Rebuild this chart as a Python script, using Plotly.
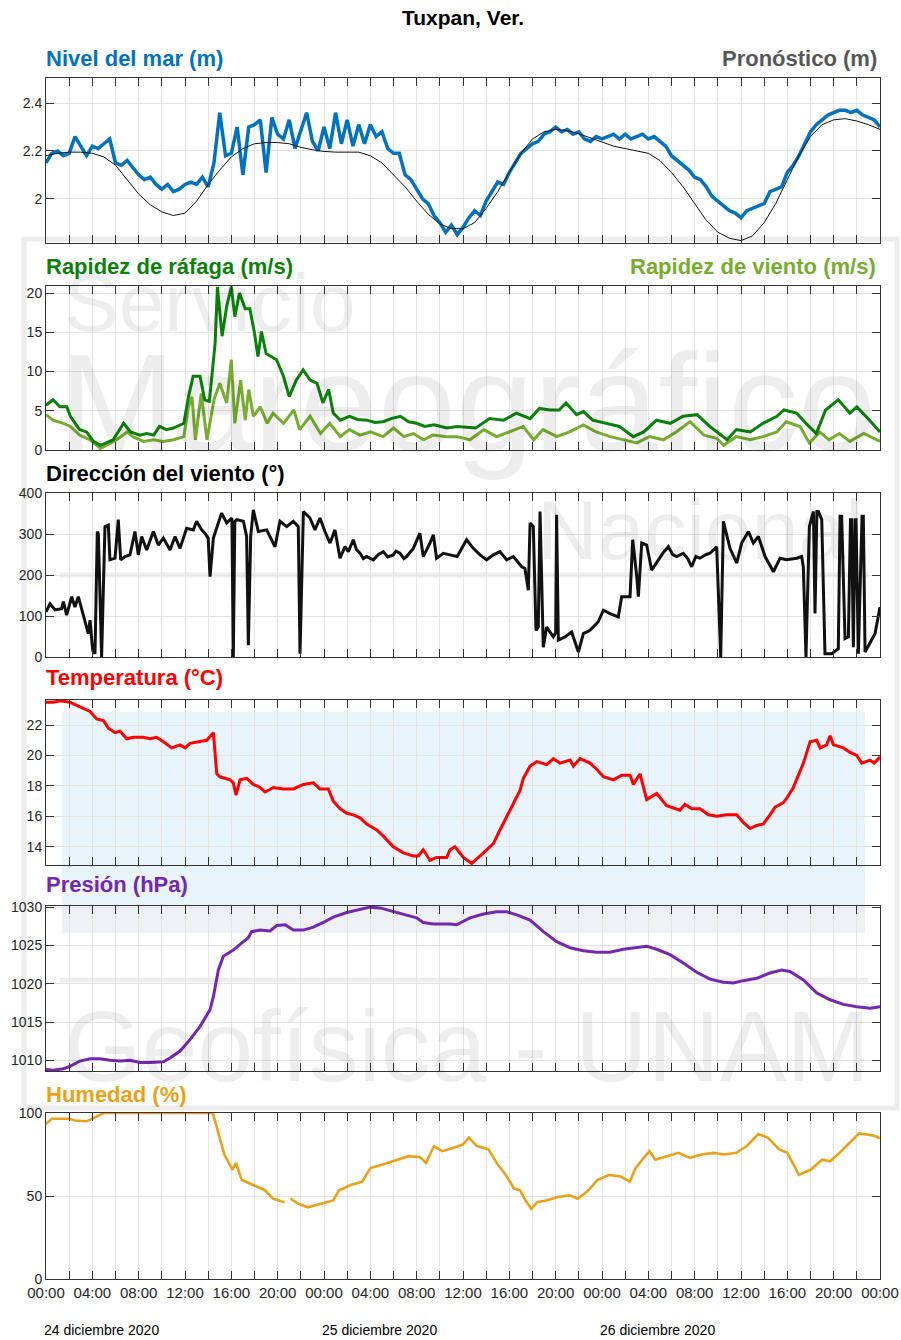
import pandas as pd
import plotly.graph_objects as go

# ---------------------------------------------------------------- data
START = pd.Timestamp("2020-12-24 00:00")
END = pd.Timestamp("2020-12-27 00:00")

# Sea level, observed every 30 min (m)
sea_hours = [i * 0.5 for i in range(145)]
sea_level = [
    2.15, 2.19, 2.20, 2.18, 2.19, 2.26, 2.22, 2.18, 2.22, 2.21,
    2.23, 2.25, 2.15, 2.14, 2.16, 2.13, 2.10, 2.08, 2.09, 2.06,
    2.04, 2.06, 2.03, 2.04, 2.06, 2.07, 2.06, 2.09, 2.05, 2.15,
    2.36, 2.18, 2.19, 2.30, 2.10, 2.30, 2.31, 2.33, 2.11, 2.34,
    2.27, 2.25, 2.33, 2.21, 2.29, 2.36, 2.24, 2.20, 2.30, 2.21,
    2.36, 2.23, 2.33, 2.22, 2.31, 2.23, 2.31, 2.26, 2.28, 2.21,
    2.19, 2.19, 2.10, 2.08, 2.04, 2.00, 1.98, 1.93, 1.90, 1.86,
    1.89, 1.85, 1.88, 1.92, 1.95, 1.93, 1.99, 2.03, 2.07, 2.06,
    2.11, 2.15, 2.19, 2.21, 2.23, 2.24, 2.27, 2.28, 2.30, 2.28,
    2.29, 2.27, 2.28, 2.25, 2.24, 2.26, 2.25, 2.26, 2.27, 2.25,
    2.27, 2.25, 2.26, 2.27, 2.25, 2.26, 2.24, 2.22, 2.18, 2.16,
    2.14, 2.12, 2.09, 2.08, 2.05, 2.01, 1.99, 1.97, 1.95, 1.94,
    1.92, 1.95, 1.96, 1.97, 1.98, 2.03, 2.04, 2.05, 2.11, 2.14,
    2.18, 2.23, 2.28, 2.31, 2.33, 2.35, 2.36, 2.37, 2.37, 2.36,
    2.37, 2.35, 2.34, 2.33, 2.30,
]

# Tide forecast, hourly (m)
fc_hours = list(range(73))
forecast = [
    2.18, 2.19, 2.195, 2.195, 2.19, 2.175, 2.14, 2.08, 2.02, 1.975,
    1.945, 1.93, 1.94, 1.99, 2.06, 2.12, 2.175, 2.21, 2.23, 2.235,
    2.235, 2.23, 2.215, 2.205, 2.198, 2.195, 2.195, 2.195, 2.18, 2.15,
    2.10, 2.05, 1.99, 1.935, 1.895, 1.875, 1.875, 1.90, 1.96, 2.03,
    2.11, 2.19, 2.25, 2.28, 2.29, 2.285, 2.272, 2.255, 2.235, 2.22,
    2.21, 2.20, 2.19, 2.16, 2.11, 2.05, 1.98, 1.91, 1.86, 1.835,
    1.825, 1.845, 1.90, 1.98, 2.08, 2.18, 2.26, 2.31, 2.33, 2.335,
    2.325, 2.31, 2.29,
]

# Wind gust (m/s)
gust_hours = [
    0, 0.6, 1.2, 1.8, 2.1, 2.9, 3.5, 4.1, 4.7, 5.2,
    5.8, 6.7, 7.3, 8.1, 8.7, 9.3, 9.8, 10.4, 11.0, 11.9,
    12.3, 12.7, 13.3, 13.7, 14.1, 14.6, 14.8, 15.2, 15.6, 16.0,
    16.3, 16.7, 17.2, 17.6, 18.0, 18.3, 18.6, 19.0, 19.9, 20.5,
    21.0, 21.6, 22.2, 22.8, 23.4, 23.9, 24.4, 24.8, 25.4, 26.2,
    26.9, 27.7, 28.4, 29.1, 29.8, 30.6, 31.3, 32.0, 32.7, 33.5,
    34.6, 35.5, 37.1, 38.3, 39.5, 40.6, 41.8, 42.6, 43.5, 44.3,
    44.9, 45.8, 46.4, 47.2, 48.4, 49.5, 50.7, 51.6, 52.7, 53.9,
    55.0, 56.2, 57.3, 58.8, 59.6, 60.8, 61.9, 63.1, 63.7, 64.8,
    65.6, 66.5, 67.3, 68.4, 69.4, 70.0, 71.1, 72.0,
]
gust = [
    5.7, 6.4, 5.5, 5.5, 4.3, 2.6, 2.3, 1.1, 0.6, 0.9,
    1.3, 3.4, 2.3, 1.9, 2.1, 1.9, 3.0, 2.6, 2.8, 3.4,
    6.8, 9.4, 9.4, 6.4, 6.2, 13.6, 20.8, 14.5, 18.3, 20.8,
    17.0, 20.0, 18.0, 18.0, 14.9, 11.9, 15.1, 12.3, 11.5, 9.4,
    6.8, 8.9, 10.2, 8.9, 8.5, 6.0, 7.7, 4.7, 3.8, 4.3,
    3.9, 3.8, 3.5, 3.6, 4.0, 4.3, 3.6, 3.4, 3.0, 3.2,
    2.8, 3.0, 2.8, 4.0, 3.8, 4.7, 4.0, 5.3, 5.1, 5.1,
    6.0, 4.5, 4.9, 3.8, 3.4, 3.0, 1.7, 2.3, 3.8, 3.4,
    4.3, 4.5, 3.0, 1.3, 2.6, 2.3, 3.4, 4.3, 5.1, 4.7,
    3.4, 2.1, 5.1, 6.4, 4.7, 5.5, 3.8, 2.3,
]

# Wind speed (m/s)
wind_hours = [
    0, 0.6, 1.5, 2.1, 2.9, 3.8, 4.7, 5.2, 6.1, 7.0,
    7.5, 8.4, 9.3, 10.1, 11.0, 11.9, 12.3, 12.6, 12.9, 13.4,
    13.9, 14.5, 15.0, 15.6, 16.0, 16.3, 16.8, 17.2, 17.5, 17.9,
    18.5, 19.1, 19.6, 20.5, 21.4, 21.9, 22.8, 23.7, 24.5, 25.4,
    26.2, 27.1, 28.0, 29.1, 30.0, 30.9, 31.7, 32.6, 33.4, 34.6,
    35.5, 36.6, 37.8, 38.9, 40.0, 41.2, 42.1, 42.9, 44.1, 45.2,
    46.4, 47.5, 48.7, 49.8, 51.0, 52.1, 53.3, 54.4, 55.6, 56.8,
    57.9, 58.5, 59.6, 60.8, 61.9, 63.1, 63.9, 65.1, 65.9, 66.8,
    67.6, 68.5, 69.4, 70.6, 71.4, 72.0,
]
wind = [
    4.5, 3.8, 3.4, 3.0, 1.9, 1.3, 0.2, 0.6, 1.3, 2.3,
    1.7, 1.1, 1.3, 1.1, 1.3, 1.7, 5.5, 6.8, 1.3, 7.2,
    1.3, 6.4, 8.5, 6.0, 11.5, 3.4, 8.9, 3.8, 7.7, 4.3,
    5.5, 3.4, 4.7, 3.4, 5.1, 2.6, 4.3, 2.1, 3.4, 1.7,
    2.6, 1.9, 2.3, 1.7, 2.8, 1.7, 2.1, 1.3, 1.9, 1.7,
    1.7, 1.3, 2.6, 1.7, 2.3, 3.0, 1.3, 2.6, 1.7, 2.3,
    3.2, 2.3, 1.7, 1.3, 0.9, 1.7, 1.3, 2.3, 3.6, 1.9,
    1.5, 0.6, 1.7, 1.3, 1.7, 2.3, 3.6, 3.0, 0.9, 2.3,
    1.3, 2.1, 1.1, 2.1, 1.5, 1.1,
]

# Wind direction (degrees)
dir_hours = [
    0.0, 0.35, 0.78, 1.35, 1.5, 1.78, 2.22, 2.5, 2.79, 3.08,
    3.37, 3.65, 3.8, 4.03, 4.23, 4.43, 4.52, 4.8, 5.09, 5.38,
    5.52, 5.96, 6.24, 6.45, 6.82, 7.25, 7.68, 7.97, 8.26, 8.69,
    9.27, 9.7, 10.13, 10.71, 11.14, 11.57, 12.14, 12.72, 13.0, 13.44,
    13.72, 14.0, 14.16, 14.45, 15.16, 15.6, 16.05, 16.17, 16.3, 16.46,
    17.04, 17.32, 17.47, 17.67, 17.9, 18.33, 19.05, 19.77, 20.2, 20.78,
    21.35, 21.78, 21.93, 22.22, 22.79, 23.22, 23.65, 24.08, 24.52, 24.95,
    25.38, 25.81, 26.1, 26.53, 26.8, 27.11, 27.4, 27.68, 28.26, 28.7,
    29.12, 29.5, 29.98, 30.2, 30.56, 30.9, 31.13, 31.71, 32.28, 32.57,
    33.15, 33.44, 33.72, 34.3, 34.88, 35.5, 36.31, 36.89, 37.47, 38.04,
    38.62, 39.19, 39.77, 40.35, 41.07, 41.35, 41.64, 41.79, 42.07, 42.3,
    42.5, 42.65, 42.93, 43.22, 43.8, 44.0, 44.08, 44.23, 44.8, 45.38,
    45.96, 46.39, 46.96, 47.68, 48.12, 48.69, 49.41, 49.7, 50.42, 50.65,
    51.0, 51.14, 51.43, 51.86, 52.29, 52.87, 53.3, 53.73, 54.1, 54.45,
    55.02, 55.4, 55.74, 56.1, 56.46, 57.0, 57.33, 57.9, 58.25, 58.48,
    59.05, 59.63, 60.06, 60.64, 61.07, 61.5, 62.08, 62.8, 63.37, 63.95,
    64.81, 65.24, 65.38, 65.61, 65.9, 66.25, 66.39, 66.55, 66.68, 66.97,
    67.25, 67.83, 68.4, 68.55, 68.69, 68.98, 69.27, 69.45, 69.55, 69.7,
    69.85, 69.93, 70.13, 70.45, 70.56, 70.71, 71.14, 71.57, 72.0,
]
direction = [
    110, 130, 115, 118, 135, 102, 147, 122, 147, 115,
    82, 57, 90, 16, 8, 306, 300, 0, 318, 322,
    237, 241, 335, 237, 245, 249, 306, 249, 294, 261,
    306, 273, 290, 261, 294, 265, 314, 310, 331, 310,
    302, 290, 196, 290, 351, 327, 339, 0, 330, 335,
    331, 294, 29, 294, 359, 306, 310, 269, 331, 318,
    331, 318, 8, 355, 339, 310, 339, 306, 278, 310,
    241, 269, 257, 286, 262, 253, 240, 245, 237, 250,
    257, 244, 249, 258, 253, 240, 245, 265, 302, 245,
    278, 298, 241, 253, 249, 245, 286, 265, 249, 237,
    249, 257, 237, 245, 220, 216, 163, 327, 318, 65,
    73, 355, 24, 73, 49, 60, 347, 41, 49, 61,
    12, 57, 65, 86, 114, 106, 98, 147, 147, 286,
    196, 147, 278, 273, 212, 237, 255, 269, 250, 245,
    253, 240, 220, 245, 241, 250, 253, 269, 0, 331,
    265, 229, 278, 306, 278, 294, 245, 208, 241, 237,
    241, 245, 220, 0, 318, 355, 106, 355, 355, 335,
    8, 8, 20, 343, 343, 45, 49, 335, 335, 24,
    335, 335, 8, 343, 343, 12, 33, 57, 122,
]

# Air temperature (deg C)
temp_hours = [
    0, 0.63, 1.21, 2.07, 2.93, 3.8, 4.37, 4.95, 5.38, 5.96,
    6.39, 6.97, 7.54, 8.4, 8.98, 9.55, 10.13, 10.85, 11.57, 12.0,
    12.43, 13.29, 13.87, 14.45, 14.74, 15.02, 15.89, 16.17, 16.4, 16.75,
    17.32, 17.9, 18.48, 18.91, 19.63, 20.49, 21.35, 22.22, 23.08, 23.65,
    24.37, 24.8, 25.38, 25.96, 26.53, 27.11, 27.68, 28.55, 29.12, 29.98,
    30.85, 31.71, 32.14, 32.57, 33.15, 33.72, 34.59, 34.88, 35.31, 36.03,
    36.75, 37.76, 38.62, 39.19, 39.77, 40.35, 40.92, 41.21, 41.79, 42.36,
    43.22, 43.8, 44.37, 45.24, 45.53, 46.1, 46.96, 47.54, 48.12, 48.98,
    49.7, 50.42, 50.71, 51.28, 51.57, 51.86, 52.72, 53.58, 54.73, 55.16,
    55.74, 56.46, 57.18, 57.9, 58.76, 59.63, 60.2, 60.78, 61.35, 61.93,
    62.5, 62.94, 63.66, 63.95, 64.52, 65.39, 65.96, 66.54, 66.83, 67.4,
    67.69, 67.98, 68.84, 69.42, 69.99, 70.42, 71.14, 71.49, 72.0,
]
temperature = [
    23.5, 23.5, 23.6, 23.5, 23.2, 22.9, 22.4, 22.3, 21.8, 21.5,
    21.6, 21.1, 21.2, 21.2, 21.1, 21.2, 20.9, 20.5, 20.7, 20.5,
    20.8, 20.9, 21.0, 21.5, 18.8, 18.6, 18.4, 18.2, 17.4, 18.4,
    18.5, 18.1, 17.9, 17.6, 17.9, 17.8, 17.8, 18.1, 18.2, 17.8,
    17.8, 17.0, 16.5, 16.2, 16.1, 15.9, 15.5, 15.1, 14.7, 14.0,
    13.6, 13.4, 13.4, 13.8, 13.1, 13.3, 13.3, 13.8, 14.0, 13.3,
    12.9, 13.6, 14.2, 15.1, 16.0, 16.8, 17.7, 18.5, 19.3, 19.6,
    19.4, 19.8, 19.5, 19.7, 19.3, 19.8, 19.5, 19.1, 18.6, 18.4,
    18.7, 18.7, 18.1, 18.8, 17.9, 17.1, 17.5, 16.7, 16.4, 16.8,
    16.5, 16.5, 16.1, 16.0, 16.1, 16.1, 15.6, 15.2, 15.4, 15.5,
    16.1, 16.6, 16.9, 17.2, 17.9, 19.5, 20.9, 21.0, 20.5, 20.7,
    21.3, 20.7, 20.5, 20.2, 20.0, 19.5, 19.7, 19.5, 19.9,
]

# Barometric pressure (hPa)
pres_hours = [
    0, 0.63, 1.5, 2.07, 2.93, 3.8, 4.66, 5.52, 6.39, 7.25,
    8.11, 8.98, 10.13, 10.71, 11.57, 12.43, 13.29, 14.16, 14.45, 14.88,
    15.31, 16.17, 17.04, 17.47, 17.75, 18.48, 19.34, 19.92, 20.64, 21.35,
    22.22, 23.08, 23.94, 24.8, 25.96, 27.11, 27.97, 28.83, 29.98, 31.13,
    31.99, 32.57, 33.44, 34.88, 35.45, 36.6, 37.76, 38.91, 39.77, 40.64,
    41.79, 42.94, 44.09, 45.24, 46.39, 47.54, 48.69, 49.84, 50.99, 51.86,
    52.72, 53.87, 55.02, 56.17, 57.33, 58.48, 59.34, 60.2, 61.35, 62.5,
    63.51, 64.23, 65.39, 66.54, 67.69, 68.84, 69.99, 71.14, 72.0,
]
pressure = [
    1008.8, 1008.7, 1008.9, 1009.2, 1009.9, 1010.2, 1010.2, 1010.0, 1009.9, 1010.0,
    1009.7, 1009.7, 1009.8, 1010.3, 1011.2, 1012.7, 1014.4, 1016.6, 1018.3, 1021.8,
    1023.6, 1024.4, 1025.5, 1026.0, 1026.8, 1027.0, 1026.9, 1027.6, 1027.7, 1027.0,
    1027.0, 1027.4, 1028.0, 1028.7, 1029.3, 1029.7, 1030.0, 1029.9, 1029.4, 1029.0,
    1028.6, 1028.0, 1027.8, 1027.8, 1027.7, 1028.6, 1029.1, 1029.4, 1029.4, 1029.0,
    1028.3, 1026.8, 1025.5, 1024.7, 1024.3, 1024.1, 1024.1, 1024.5, 1024.7, 1024.9,
    1024.5, 1023.8, 1022.7, 1021.5, 1020.6, 1020.2, 1020.1, 1020.4, 1020.7, 1021.4,
    1021.8, 1021.6, 1020.5, 1018.8, 1017.9, 1017.3, 1017.0, 1016.8, 1017.0,
]

# Relative humidity (%), None marks a missing record
hum_hours = [
    0, 0.5, 2.0, 2.5, 3.5, 4.2, 5.0, 14.4, 14.9, 15.4,
    16.1, 16.4, 16.9, 17.9, 18.9, 19.6, 20.6, 20.8, 21.1, 21.8,
    22.6, 23.8, 24.8, 25.3, 26.3, 27.3, 28.0, 29.0, 30.3, 31.3,
    32.3, 32.8, 33.5, 34.2, 35.2, 36.0, 36.5, 37.2, 38.2, 39.0,
    39.7, 40.4, 40.9, 41.4, 41.9, 42.4, 43.2, 44.2, 45.2, 45.9,
    46.7, 47.6, 48.6, 49.6, 50.4, 50.9, 51.6, 52.1, 52.6, 53.6,
    54.6, 55.6, 56.6, 57.6, 58.6, 59.6, 60.5, 61.5, 62.3, 63.3,
    64.0, 65.0, 66.0, 67.0, 67.7, 68.5, 69.5, 70.2, 71.0, 71.5,
    72.0,
]
humidity = [
    93.4, 96.5, 96.5, 95.5, 95.0, 97.5, 100, 100, 87.3, 75.0,
    65.8, 69.9, 59.6, 56.6, 53.5, 48.4, 46.3, None, 48.4, 45.3,
    43.2, 45.3, 47.3, 53.5, 56.6, 58.6, 66.8, 68.9, 71.9, 74.0,
    73.4, 69.9, 80.1, 77.0, 79.1, 81.1, 85.2, 80.1, 78.1, 68.9,
    62.7, 54.5, 53.5, 47.3, 42.2, 46.3, 47.3, 49.4, 50.4, 48.4,
    52.5, 59.6, 62.7, 61.7, 58.6, 66.8, 73.0, 77.0, 71.9, 74.0,
    76.0, 73.0, 75.0, 76.0, 75.0, 76.0, 80.1, 87.3, 85.2, 78.1,
    76.0, 62.7, 65.8, 71.9, 70.9, 76.0, 83.2, 87.7, 86.9, 86.3,
    84.8,
]

# Axis ticks: a tick every 2 h, a label every 4 h
tick_hours = list(range(0, 73, 2))
tick_labels = ["00:00", "", "04:00", "", "08:00", "", "12:00", "", "16:00", "",
               "20:00", ""] * 3 + ["00:00"]
day_labels = ["24 diciembre 2020", "25 diciembre 2020", "26 diciembre 2020"]
day_starts = [0, 24, 48]


def when(hours):
    return [START + pd.Timedelta(hours=h) for h in hours]


# ---------------------------------------------------------------- layout
W, H = 901, 1340
X_LEFT, X_RIGHT = 46, 880
# (top px, bottom px) of each panel
PANELS = [(78, 243), (286, 450), (493, 657), (700, 865), (906, 1071), (1113, 1279)]
Y_RANGES = [[1.815, 2.505], [0, 20.9], [0, 400], [12.8, 23.65], [1008.6, 1030.15], [0, 100]]
Y_DTICK = [0.2, 5, 100, 2, 5, 50]

FONT = "Liberation Sans, Arial, sans-serif"
NARROW = "Liberation Sans Narrow, Liberation Sans, Arial, sans-serif"
FRAME = "#333333"
GRID = "#e4e4e4"

BLUE = "#0072BD"
DARK_GREEN = "#0B800B"
LIGHT_GREEN = "#77AC30"
RED = "#FF0000"
PURPLE = "#7428B0"
ORANGE = "#E9A11A"


def py(px):
    return 1 - px / H


def pxx(px):
    return px / W


fig = go.Figure()

series = [
    (1, sea_hours, sea_level, BLUE, 3.5),
    (1, fc_hours, forecast, "#111111", 1.0),
    (2, wind_hours, wind, LIGHT_GREEN, 3.0),
    (2, gust_hours, gust, DARK_GREEN, 3.0),
    (3, dir_hours, direction, "#111111", 3.0),
    (4, temp_hours, temperature, RED, 3.0),
    (5, pres_hours, pressure, PURPLE, 3.0),
    (6, hum_hours, humidity, ORANGE, 2.6),
]
for panel, hrs, vals, color, width in series:
    suffix = "" if panel == 1 else str(panel)
    fig.add_trace(go.Scatter(
        x=when(hrs), y=vals, mode="lines",
        line=dict(color=color, width=width),
        xaxis="x" + suffix, yaxis="y" + suffix,
        showlegend=False, hoverinfo="skip",
    ))

layout = dict(
    width=W, height=H,
    margin=dict(l=0, r=0, t=0, b=0, pad=0),
    paper_bgcolor="white", plot_bgcolor="rgba(0,0,0,0)",
    font=dict(family=FONT, color="#262626"),
    showlegend=False,
)

tick_times = when(tick_hours)
for i, (top, bottom) in enumerate(PANELS, start=1):
    suffix = "" if i == 1 else str(i)
    last = i == len(PANELS)
    layout["xaxis" + suffix] = dict(
        type="date", range=[START, END], automargin=False,
        domain=[pxx(X_LEFT), pxx(X_RIGHT)],
        anchor="y" + suffix,
        tickmode="array", tickvals=tick_times, ticktext=tick_labels,
        showticklabels=last,
        tickfont=dict(family=NARROW, size=15, color="#262626"),
        ticks="inside", ticklen=8, tickwidth=1, tickcolor=FRAME,
        showline=True, linecolor=FRAME, linewidth=1, mirror="allticks",
        showgrid=True, gridcolor=GRID, gridwidth=1, zeroline=False,
        **({} if i == 1 else {"matches": "x"}),
    )
    layout["yaxis" + suffix] = dict(
        domain=[py(bottom), py(top)], automargin=False,
        anchor="x" + suffix,
        range=Y_RANGES[i - 1], tick0=0, dtick=Y_DTICK[i - 1],
        tickfont=dict(family=FONT, size=14, color="#262626"),
        ticks="inside", ticklen=8, tickwidth=1, tickcolor=FRAME,
        showline=True, linecolor=FRAME, linewidth=1, mirror="allticks",
        showgrid=True, gridcolor=GRID, gridwidth=1, zeroline=False,
    )

# background emblem: light frame, bands and the blue wave field
shapes = [
    dict(type="rect", xref="paper", yref="paper", layer="below",
         x0=pxx(62), x1=pxx(865), y0=py(933), y1=py(712),
         fillcolor="#e8f3fa", line=dict(width=0)),
    dict(type="rect", xref="paper", yref="paper", layer="below",
         x0=pxx(62), x1=pxx(865), y0=py(933), y1=py(905),
         fillcolor="#edf1f5", line=dict(width=0)),
    dict(type="rect", xref="paper", yref="paper", layer="below",
         x0=pxx(24), x1=pxx(897), y0=py(1108), y1=py(239),
         fillcolor="rgba(0,0,0,0)", line=dict(color="#ececec", width=5)),
    dict(type="line", xref="paper", yref="paper", layer="below",
         x0=pxx(60), x1=pxx(868), y0=py(575), y1=py(575),
         line=dict(color="#ededed", width=5)),
    dict(type="line", xref="paper", yref="paper", layer="below",
         x0=pxx(60), x1=pxx(868), y0=py(980), y1=py(980),
         line=dict(color="#ededed", width=5)),
]
layout["shapes"] = shapes

annotations = []


def label(text, x, y, color, size=22, anchor="left", weight="bold", family=FONT,
          shift=0):
    annotations.append(dict(
        text=text, xref="paper", yref="paper", x=pxx(x), y=py(y),
        xanchor=anchor, yanchor="middle", showarrow=False, xshift=shift,
        font=dict(family=family, size=size, color=color, weight=weight),
    ))


# watermark lettering
WM = "rgba(0,0,0,0.07)"
label("Servicio", 210, 302, WM, size=82, anchor="center", weight="normal")
label("Mareográfico", 467, 402, WM, size=140, anchor="center", weight="normal")
label("Nacional", 866, 530, WM, size=84, anchor="right", weight="normal")
label("Geofísica - UNAM", 467, 1046, WM, size=100, anchor="center", weight="normal")

# titles
label("Tuxpan, Ver.", 463, 18, "#000000", size=21, anchor="center")
label("Nivel del mar (m)", X_LEFT, 59, BLUE, shift=-2)
label("Pronóstico (m)", 877, 59, "#575757", anchor="right", shift=2)
label("Rapidez de ráfaga (m/s)", X_LEFT, 266, DARK_GREEN, shift=-2)
label("Rapidez de viento (m/s)", 876, 266, LIGHT_GREEN, anchor="right", shift=2)
label("Dirección del viento (°)", X_LEFT, 473, "#000000", shift=-2)
label("Temperatura (°C)", X_LEFT, 678, RED, shift=-2)
label("Presión (hPa)", X_LEFT, 884, PURPLE, shift=-2)
label("Humedad (%)", X_LEFT, 1094, ORANGE, shift=-2)

# day captions under the time axis
for text, h in zip(day_labels, day_starts):
    annotations.append(dict(
        text=text, xref="x6", yref="paper",
        x=START + pd.Timedelta(hours=h), y=py(1330),
        xanchor="left", yanchor="middle", xshift=-4, showarrow=False,
        font=dict(family=FONT, size=14, color="#000000"),
    ))

layout["annotations"] = annotations
fig.update_layout(**layout)

fig.write_html("out.html")
